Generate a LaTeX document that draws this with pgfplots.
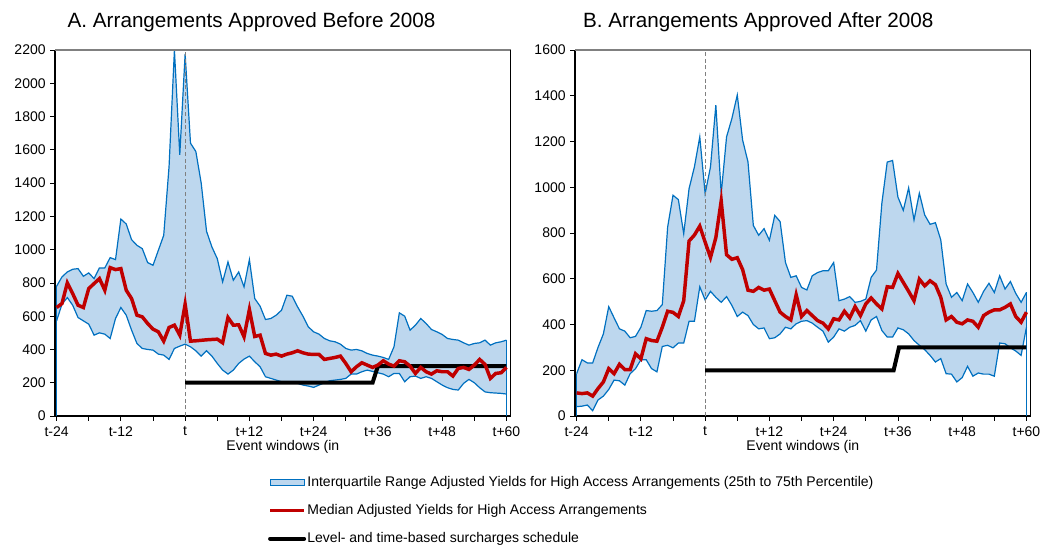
\documentclass[border=0pt]{standalone}
\usepackage{fontspec}
\setmainfont{Liberation Sans}
\usepackage{pgfplots}
\pgfplotsset{compat=1.18}
\usepackage{pgfplotstable}
\usepgfplotslibrary{fillbetween}

\definecolor{bandfill}{RGB}{189,215,238}
\definecolor{bandline}{RGB}{0,112,192}
\definecolor{medred}{RGB}{192,0,0}

\pgfplotstableread{
m up lo med
-24 780 572 652
-23 836 672 676
-22 866 712 800
-21 882 666 736
-20 886 592 666
-19 840 572 652
-18 860 552 766
-17 826 486 796
-16 890 500 826
-15 890 492 756
-14 952 466 892
-13 940 586 880
-12 1184 652 886
-11 1154 606 756
-10 1060 516 706
-9 1026 436 606
-8 1006 406 596
-7 922 400 556
-6 906 396 522
-5 996 372 506
-4 1086 366 450
-3 1500 340 532
-2 2200 406 546
-1 1570 420 486
0 2176 432 672
1 1640 416 450
2 1590 392 452
3 1400 360 455
4 1110 392 458
5 1016 360 460
6 946 316 462
7 806 276 440
8 926 252 592
9 816 276 546
10 866 316 548
11 776 342 476
12 940 360 640
13 706 326 478
14 660 296 486
15 580 236 376
16 586 226 366
17 606 216 372
18 636 206 360
19 726 206 372
20 720 200 380
21 656 196 392
22 600 186 380
23 536 180 372
24 506 172 370
25 492 186 370
26 466 200 340
27 452 212 346
28 446 216 352
29 432 220 360
30 406 226 316
31 396 252 266
32 400 252 296
33 392 266 320
34 376 276 306
35 366 268 292
36 360 260 306
37 352 252 332
38 340 236 312
39 416 256 300
40 620 256 332
41 600 206 326
42 516 236 300
43 546 240 256
44 586 226 292
45 556 236 266
46 520 226 252
47 506 206 272
48 490 186 266
49 466 170 266
50 460 160 240
51 456 156 286
52 440 196 292
53 426 220 280
54 436 200 306
55 440 170 340
56 456 145 310
57 426 140 226
58 440 138 256
59 446 136 260
60 456 132 292
}\dataA

\pgfplotstableread{
m up lo med
-24 185 41 101
-23 246 43 98
-22 232 48 101
-21 232 23 87
-20 300 70 120
-19 359 87 149
-18 478 116 207
-17 429 157 185
-16 381 154 226
-15 371 135 203
-14 342 185 203
-13 348 207 272
-12 388 246 250
-11 461 246 338
-10 458 207 330
-9 461 193 327
-8 487 304 388
-7 826 309 458
-6 965 298 453
-5 946 319 435
-4 797 319 504
-3 994 414 765
-2 1089 414 791
-1 1220 565 830
0 972 507 760
1 1089 545 693
2 1359 519 780
3 972 497 940
4 1220 522 705
5 1301 483 685
6 1403 435 692
7 1206 454 640
8 1111 439 550
9 833 400 545
10 790 381 562
11 819 385 550
12 768 338 555
13 877 342 504
14 850 359 454
15 671 388 435
16 606 381 420
17 613 403 530
18 562 414 435
19 551 417 461
20 613 406 439
21 627 388 417
22 635 371 406
23 635 323 381
24 671 345 425
25 504 381 420
26 511 371 458
27 522 388 429
28 497 396 478
29 501 417 439
30 511 371 490
31 606 420 516
32 638 435 490
33 930 374 468
34 1110 345 565
35 1117 345 562
36 957 385 623
37 899 377 584
38 997 359 545
39 857 330 504
40 974 309 598
41 879 290 569
42 838 265 591
43 845 236 574
44 770 251 519
45 577 185 420
46 519 183 435
47 540 149 410
48 504 168 403
49 577 217 420
50 540 174 414
51 497 188 388
52 545 183 439
53 580 183 454
54 540 174 464
55 613 319 464
56 555 316 475
57 588 298 490
58 536 284 435
59 497 265 410
60 540 388 454
}\dataB

\pgfplotsset{
  panel/.style={
    scale only axis, width=341.8pt, height=274.5pt,
    xmin=-24.3, xmax=60.8, ymin=0,
    axis x line*=bottom, axis y line*=left,
    axis line style={black, line width=1pt},
    tick align=outside,
    tick style={black, line width=0.6pt},
    major tick length=3.5pt, minor tick length=3.5pt,
    xtick={-24,-12,0,12,24,36,48,60},
    xticklabels={t-24,t-12,t,t+12,t+24,t+36,t+48,t+60},
    minor xtick={-18,-6,6,18,30,42,54},
    ytick distance=200,
    /pgf/number format/1000 sep={},
    /pgf/number format/assume math mode=true,
    tick label style={font=\fontsize{10.5}{12}\selectfont},
    xticklabel style={yshift=-1pt},
    xlabel={Event windows (in},
    xlabel style={font=\fontsize{10.5}{12}\selectfont, at={(axis description cs:0.5,0)}, anchor=base, yshift=-25.5pt},
    title style={font=\fontsize{15.5}{18}\selectfont, at={(axis description cs:0,1)}, anchor=base west, yshift=10.5pt},
  },
  bandl/.style={bandline, line width=0.9pt, forget plot},
  tline/.style={gray, dash pattern=on 3pt off 2pt, line width=0.75pt, forget plot},
}

\begin{document}
\begin{tikzpicture}
\begin{axis}[panel, name=L, at={(0pt,0pt)}, anchor=south west, ymax=2200,
  title={A. Arrangements Approved Before 2008},
  title style={xshift=6pt},
  legend style={at={(axis description cs:0.467,-0.158)}, anchor=north west,
    draw=none, fill=none, inner sep=0pt, row sep=8.6pt,
    font=\fontsize{10.5}{12}\selectfont,
    nodes={inner sep=1pt, text height=8pt, text depth=2.5pt}},
  legend cell align=left]
\addplot[name path=upA, draw=none, forget plot] table[x=m,y=up]{\dataA};
\addplot[name path=loA, draw=none, forget plot] table[x=m,y=lo]{\dataA};
\addplot[bandfill, forget plot] fill between[of=upA and loA];
\addplot[bandl] table[x=m,y=up]{\dataA};
\addplot[bandl] table[x=m,y=lo]{\dataA};
\addplot[bandl] coordinates {(-24,0) (-24,780)};
\addplot[bandl] coordinates {(60,456) (60,0)};
\addplot[tline] coordinates {(0,0) (0,2200)};
\addplot[black, line width=3pt, forget plot] coordinates {(0,200) (35,200) (36,300) (60,300)};
\addplot[medred, line width=2.6pt, forget plot] table[x=m,y=med]{\dataA};
\addlegendimage{legend image code/.code={\draw[bandline, fill=bandfill, line width=0.6pt] (0pt,-2.5pt) rectangle (25.5pt,2.5pt);}}
\addlegendentry{Interquartile Range Adjusted Yields for High Access Arrangements (25th to 75th Percentile)}
\addlegendimage{legend image code/.code={\draw[medred, line width=2.4pt] (0pt,0pt) -- (25.5pt,0pt);}}
\addlegendentry{Median Adjusted Yields for High Access Arrangements}
\addlegendimage{legend image code/.code={\draw[black, line width=3pt, line cap=round] (0pt,0pt) -- (25.5pt,0pt);}}
\addlegendentry{Level- and time-based surcharges schedule}
\end{axis}
\draw[gray, line width=0.8pt] (L.north west) -- (L.north east);
\draw[black, line width=0.6pt] (L.south east) -- (L.north east);

\begin{axis}[panel, name=R, at={(390pt,0pt)}, anchor=south west, ymax=1600,
  title={B. Arrangements Approved After 2008},
  title style={xshift=2.5pt}]
\addplot[name path=upB, draw=none, forget plot] table[x=m,y=up]{\dataB};
\addplot[name path=loB, draw=none, forget plot] table[x=m,y=lo]{\dataB};
\addplot[bandfill, forget plot] fill between[of=upB and loB];
\addplot[bandl] table[x=m,y=up]{\dataB};
\addplot[bandl] table[x=m,y=lo]{\dataB};
\addplot[bandl] coordinates {(-24,0) (-24,185)};
\addplot[bandl] coordinates {(60,540) (60,0)};
\addplot[tline] coordinates {(0,0) (0,1600)};
\addplot[black, line width=3pt, forget plot] coordinates {(0,200) (35.2,200) (36.2,300) (60,300)};
\addplot[medred, line width=2.6pt, forget plot] table[x=m,y=med]{\dataB};
\end{axis}
\draw[gray, line width=0.8pt] (R.north west) -- (R.north east);
\draw[black, line width=0.6pt] (R.south east) -- (R.north east);
\pgfresetboundingbox
\path[use as bounding box] (L.south west) ++(-41.25pt,-98.25pt) rectangle ++(781.5pt,410.25pt);
\end{tikzpicture}
\end{document}
